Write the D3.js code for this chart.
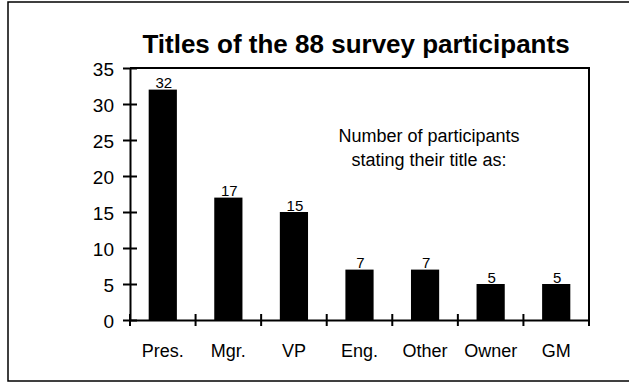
<!DOCTYPE html>
<html>
<head>
<meta charset="utf-8">
<script src="https://cdn.jsdelivr.net/npm/d3@7"></script>
<style>
  html, body { margin: 0; padding: 0; background: #fff; overflow: hidden; }
  svg { display: block; font-family: Arial, "Liberation Sans", sans-serif; }
</style>
</head>
<body>
<svg id="chart" width="629" height="383"></svg>
<script>
const categories = ["Pres.", "Mgr.", "VP", "Eng.", "Other", "Owner", "GM"];
const counts = [32, 17, 15, 7, 7, 5, 5];
const yTicks = [0, 5, 10, 15, 20, 25, 30, 35];
const titleText = "Titles of the 88 survey participants";
const noteLines = ["Number of participants", "stating their title as:"];

const svg = d3.select("#chart");

// outer chart-area border (right edge falls outside the picture)
svg.append("rect")
  .attr("x", 8).attr("y", 2).attr("width", 630).attr("height", 379)
  .attr("fill", "#fff").attr("stroke", "#000").attr("stroke-width", 1.5);

const plot = { left: 130, right: 589, top: 68, bottom: 320 };

const x = d3.scaleBand().domain(categories).range([plot.left, plot.right]).paddingInner(0).paddingOuter(0);
const y = d3.scaleLinear().domain([0, 35]).range([plot.bottom, plot.top]);

// plot frame top & right
svg.append("path")
  .attr("d", `M${plot.left},${plot.top}H${plot.right}V${plot.bottom}`)
  .attr("fill", "none").attr("stroke", "#000").attr("stroke-width", 2);

// bars
const barW = x.bandwidth() * 0.43;
svg.append("g").selectAll("rect").data(counts).join("rect")
  .attr("x", (d, i) => x(categories[i]) + (x.bandwidth() - barW) / 2)
  .attr("y", d => y(d))
  .attr("width", barW)
  .attr("height", d => y(0) - y(d))
  .attr("fill", "#000");

// value labels
svg.append("g").selectAll("text").data(counts).join("text")
  .attr("x", (d, i) => x(categories[i]) + x.bandwidth() / 2 + 1)
  .attr("y", d => y(d) - 1.5)
  .attr("text-anchor", "middle")
  .attr("font-size", 15)
  .attr("fill", "#000")
  .text(d => d);

// y axis
const yAxis = d3.axisLeft(y).tickValues(yTicks).tickSize(0).tickPadding(16);
const gy = svg.append("g").attr("transform", `translate(${plot.left},0)`).call(yAxis);
gy.select(".domain").attr("stroke", "#000").attr("stroke-width", 2);
gy.selectAll(".tick text").attr("font-size", 19).attr("fill", "#000").attr("dy", "0.38em").attr("font-family", "Arial, 'Liberation Sans', sans-serif");
gy.selectAll(".tick").append("line")
  .attr("x1", -7).attr("x2", 7).attr("stroke", "#000").attr("stroke-width", 2);

// x axis
const xAxis = d3.axisBottom(x).tickSize(0).tickPadding(24);
const gx = svg.append("g").attr("transform", `translate(0,${plot.bottom})`).call(xAxis);
gx.select(".domain").attr("stroke", "#000").attr("stroke-width", 2);
gx.selectAll(".tick text").attr("font-size", 18).attr("fill", "#000").attr("dy", "0.71em").attr("font-family", "Arial, 'Liberation Sans', sans-serif");
// category boundary ticks
const bounds = categories.map(c => x(c)).concat([plot.right]);
gx.append("g").selectAll("line").data(bounds).join("line")
  .attr("x1", d => d).attr("x2", d => d)
  .attr("y1", -6).attr("y2", 6)
  .attr("stroke", "#000").attr("stroke-width", 2);

// title
svg.append("text")
  .attr("x", 356).attr("y", 53)
  .attr("text-anchor", "middle")
  .attr("font-size", 26).attr("font-weight", "bold")
  .attr("fill", "#000")
  .text(titleText);

// annotation
svg.append("g").selectAll("text").data(noteLines).join("text")
  .attr("x", 429)
  .attr("y", (d, i) => 142 + i * 23.5)
  .attr("text-anchor", "middle")
  .attr("font-size", 18)
  .attr("fill", "#000")
  .text(d => d);
</script>
</body>
</html>
